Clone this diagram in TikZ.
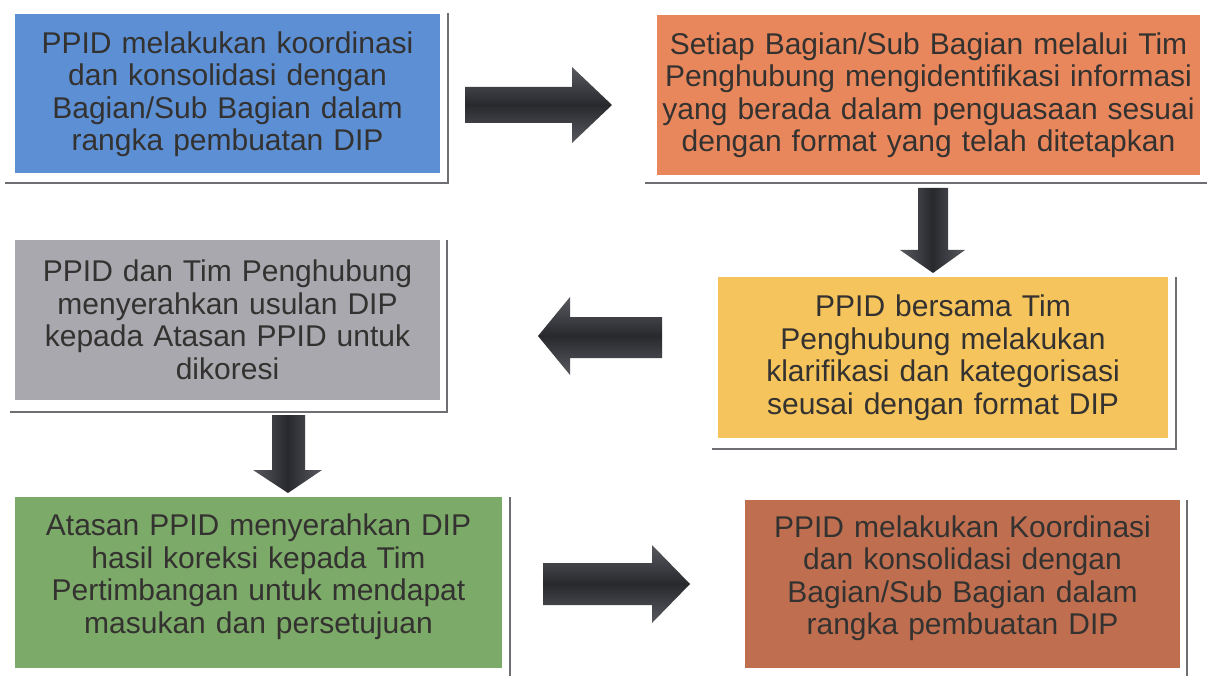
\documentclass[tikz,border=0pt]{standalone}
\usepackage{fontspec}
\setmainfont{Liberation Sans}
\definecolor{cblue}{RGB}{92,143,212}
\definecolor{corange}{RGB}{233,135,92}
\definecolor{cyellow}{RGB}{246,196,92}
\definecolor{cgray}{RGB}{168,168,174}
\definecolor{cgreen}{RGB}{124,170,104}
\definecolor{cbrown}{RGB}{191,111,80}
\definecolor{txt}{RGB}{52,50,48}
\definecolor{framec}{RGB}{110,110,115}
\definecolor{arrdark}{RGB}{40,41,45}
\definecolor{arrlight}{RGB}{88,90,96}
\begin{document}
\begin{tikzpicture}[x=1pt,y=-1pt,
  box/.style={rectangle, inner sep=0pt, align=center, text=txt,
    font=\fontsize{30}{32.5}\selectfont},
  frame/.style={draw=framec, line width=1.8pt},
  harrow/.style={top color=arrlight, bottom color=arrlight, middle color=arrdark},
  varrow/.style={left color=arrlight, right color=arrlight, middle color=arrdark}]
\useasboundingbox (0,0) rectangle (1207,676);
\fill[white] (0,0) rectangle (1207,676);

% frames (shadow lines)
\draw[frame] (5,183) -- (448,183) -- (448,13);
\draw[frame] (645,183) -- (1207,183);
\draw[frame] (712,449) -- (1176,449) -- (1176,277);
\draw[frame] (10,412) -- (447,412) -- (447,240);
\draw[frame] (510,497) -- (510,676);
\draw[frame] (1187,500) -- (1187,676);

% boxes
\node[box, fill=cblue, minimum width=425pt, minimum height=159pt, text width=415pt]
  (b1) at (227.5,94) {PPID melakukan koordinasi\\dan konsolidasi dengan\\Bagian/Sub Bagian dalam\\rangka pembuatan DIP};
\node[box, fill=corange, minimum width=543pt, minimum height=160pt, text width=535pt]
  (b2) at (928.5,95) {Setiap Bagian/Sub Bagian melalui Tim\\Penghubung mengidentifikasi informasi\\yang berada dalam penguasaan sesuai\\dengan format yang telah ditetapkan};
\node[box, fill=cyellow, minimum width=450pt, minimum height=161pt, text width=440pt]
  (b3) at (943,357.5) {PPID bersama Tim\\Penghubung melakukan\\klarifikasi dan kategorisasi\\seusai dengan format DIP};
\node[box, fill=cgray, minimum width=425pt, minimum height=160pt, text width=415pt]
  (b4) at (227.5,320) {PPID dan Tim Penghubung\\menyerahkan usulan DIP\\kepada Atasan PPID untuk\\dikoresi};
\node[box, fill=cgreen, minimum width=487pt, minimum height=171pt]
  (b5) at (258.5,582.5) {};
\node[box, text width=477pt] (b5t) at ([yshift=6pt]b5.center)
  {Atasan PPID menyerahkan DIP\\hasil koreksi kepada Tim\\Pertimbangan untuk mendapat\\masukan dan persetujuan};
\node[box, fill=cbrown, minimum width=435pt, minimum height=168pt]
  (b6) at (962.5,584) {};
\node[box, text width=425pt] (b6t) at ([yshift=6pt]b6.center)
  {PPID melakukan Koordinasi\\dan konsolidasi dengan\\Bagian/Sub Bagian dalam\\rangka pembuatan DIP};

% block arrows
\shade[harrow] (465,87) -- (572,87) -- (572,67) -- (612,105) -- (572,143) -- (572,123) -- (465,123) -- cycle;
\shade[varrow] (918,188) -- (948,188) -- (948,250) -- (965,250) -- (933,273) -- (900,250) -- (918,250) -- cycle;
\shade[harrow] (662,317) -- (570,317) -- (570,297) -- (538,336) -- (570,375) -- (570,358) -- (662,358) -- cycle;
\shade[varrow] (272,415) -- (305,415) -- (305,470) -- (322,470) -- (288,493) -- (253,470) -- (272,470) -- cycle;
\shade[harrow] (543,563) -- (652,563) -- (652,545) -- (690,584) -- (652,623) -- (652,605) -- (543,605) -- cycle;
\end{tikzpicture}
\end{document}
